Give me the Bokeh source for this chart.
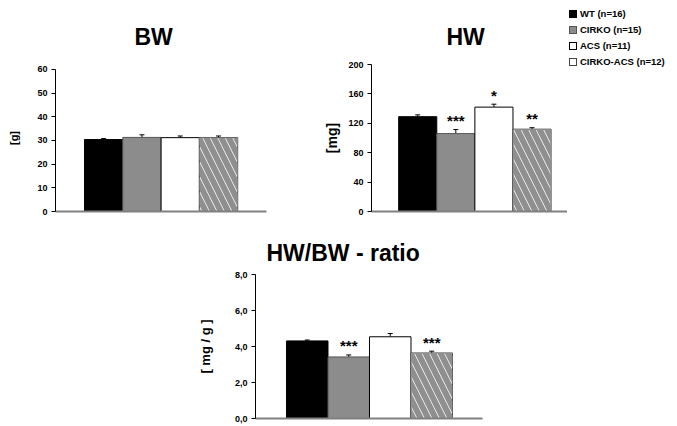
from bokeh.plotting import figure
from bokeh.models import (ColumnDataSource, Range1d, FixedTicker, Whisker, TeeHead,
                          CDSView, IndexFilter, Div)
from bokeh.layouts import column, row
from bokeh.embed import file_html
from bokeh.resources import INLINE
from bokeh.core.properties import value

FONT = "Liberation Sans"

# ---------------- data ----------------
groups = ["WT", "CIRKO", "ACS", "CIRKO-ACS"]
legend_labels = ["WT (n=16)", "CIRKO (n=15)", "ACS (n=11)", "CIRKO-ACS (n=12)"]

bw_mean = [30.4, 31.3, 31.2, 31.2]
bw_err = [0.4, 1.1, 0.7, 0.7]
bw_sig = ["", "", "", ""]

hw_mean = [129, 106, 142, 112]
hw_err = [2.5, 5.5, 4.0, 2.0]
hw_sig = ["", "***", "*", "**"]

ratio_mean = [4.31, 3.42, 4.54, 3.64]
ratio_err = [0.05, 0.11, 0.18, 0.10]
ratio_sig = ["", "***", "", "***"]

bw_ticks = [0, 10, 20, 30, 40, 50, 60]
hw_ticks = [0, 40, 80, 120, 160, 200]
ratio_ticks = [0, 2, 4, 6, 8]
ratio_tick_labels = ["0,0", "2,0", "4,0", "6,0", "8,0"]

# ---------------- styles ----------------
fills = ["black", "#8c8c8c", "white", "white"]
outlines = ["black", "#555555", "black", "#444444"]
HATCHED = groups.index("CIRKO-ACS")


def make_panel(title, ylab, means, errs, sig, ticks, y_end, y_view_end, width, height,
               bl, br, bt, bb, xr, title_offset, title_standoff,
               ylab_size, ylab_standoff, tick_overrides=None, star_size="15px"):
    p = figure(width=width, height=height, x_range=Range1d(*xr),
               y_range=Range1d(0, y_view_end),
               output_backend="svg", toolbar_location=None,
               min_border_left=bl, min_border_right=br, min_border_top=bt, min_border_bottom=bb)
    p.outline_line_color = None
    p.xgrid.visible = False
    p.ygrid.visible = False
    p.background_fill_color = "white"
    p.border_fill_color = "white"

    xs = list(range(len(means)))
    src = ColumnDataSource(dict(x=xs, top=means, hi=[m + e for m, e in zip(means, errs)],
                                fill=fills, line=outlines, sig=sig))
    r = p.vbar(x="x", top="top", bottom=0, width=1.0, fill_color="fill", line_color="line",
               line_width=1, source=src)
    p.vbar(x="x", top="top", bottom=0, width=1.0, fill_alpha=0, line_color=None,
           hatch_pattern="\\", hatch_color="#8f8f8f", hatch_weight=6, hatch_scale=15,
           source=src, view=CDSView(filter=IndexFilter([HATCHED])))

    p.add_layout(Whisker(source=src, base="x", lower="top", upper="hi", dimension="height",
                         line_color="black", line_width=1, lower_head=None,
                         upper_head=TeeHead(size=5, line_color="black", line_width=1)))

    p.text(x="x", y="hi", text="sig", source=src, text_align="center",
           text_baseline="alphabetic", y_offset=-9, text_font=value(FONT),
           text_font_style="bold", text_font_size=star_size, text_color="black")

    # x axis: plain grey base line
    p.xaxis.ticker = FixedTicker(ticks=[])
    p.xaxis.axis_line_color = "#808080"
    p.xaxis.axis_line_width = 2
    p.xaxis.major_tick_line_color = None
    p.xaxis.minor_tick_line_color = None
    p.xaxis.major_tick_out = 0
    p.xaxis.major_tick_in = 0
    p.xaxis.major_label_standoff = 0
    p.xaxis.major_label_text_font_size = "0px"

    # y axis
    yax = p.yaxis[0]
    yax.bounds = (0, y_end)
    yax.ticker = FixedTicker(ticks=ticks)
    yax.axis_line_color = "black"
    yax.major_tick_line_color = "black"
    yax.minor_tick_line_color = None
    yax.major_tick_in = 0
    yax.major_tick_out = 4
    yax.major_label_standoff = 4
    yax.major_label_text_font = FONT
    yax.major_label_text_font_style = "bold"
    yax.major_label_text_font_size = "9px"
    yax.major_label_text_color = "black"
    if tick_overrides:
        yax.major_label_overrides = tick_overrides
    yax.axis_label = ylab
    yax.axis_label_text_font = FONT
    yax.axis_label_text_font_style = "bold"
    yax.axis_label_text_font_size = ylab_size
    yax.axis_label_text_color = "black"
    yax.axis_label_standoff = ylab_standoff

    p.title.text = title
    p.title.align = "left"
    p.title.vertical_align = "top"
    p.title.offset = title_offset
    p.title.standoff = title_standoff
    p.title.text_font = FONT
    p.title.text_font_style = "bold"
    p.title.text_font_size = "23px"
    p.title.text_color = "black"
    return p, r


# thin salmon rule along the top edge
banner = Div(text='<div style="height:2px;background:#f28e7a;"></div>',
             width=650, height=2, margin=(1, 9, 1, 18))

# BW frame is drawn a little taller than its 0-60 axis so that both top-row frames align
p_bw, _ = make_panel("BW", "[g]", bw_mean, bw_err, bw_sig, bw_ticks, 60, 62.1,
                     width=300, height=212, bl=55, br=34, bt=60, bb=5,
                     xr=(-1.257, 4.252), title_offset=79, title_standoff=25,
                     ylab_size="11px", ylab_standoff=14)

p_hw, _ = make_panel("HW", "[mg]", hw_mean, hw_err, hw_sig, hw_ticks, 200, 200,
                     width=267, height=212, bl=71, br=0, bt=60, bb=5,
                     xr=(-1.213, 3.931), title_offset=75, title_standoff=25,
                     ylab_size="14px", ylab_standoff=5)

# legend key, built from the group labels and bar styles
key_rows = []
for lab, f, l in zip(legend_labels, fills, outlines):
    key_rows.append(
        '<div style="height:16px;line-height:16px;white-space:nowrap;">'
        f'<span style="display:inline-block;width:8px;height:8px;box-sizing:border-box;'
        f'background:{f};border:1px solid {l};margin-right:3px;vertical-align:middle;"></span>'
        f'<span style="vertical-align:middle;">{lab}</span></div>'
    )
leg_div = Div(text=(f'<div style="font-family:\'{FONT}\',Arial,sans-serif;font-weight:bold;'
                    f'font-size:9.5px;color:black;padding:2px 0 0 2px;">'
                    + "".join(key_rows) + "</div>"),
              width=110, height=212, margin=(0, 0, 0, 0))

p_ratio, _ = make_panel("HW/BW - ratio", "[ mg / g ]", ratio_mean, ratio_err, ratio_sig,
                        ratio_ticks, 8, 8, width=677, height=210, bl=255, br=195, bt=58, bb=8,
                        xr=(-1.247, 4.223), title_offset=11, title_standoff=14,
                        ylab_size="13px", ylab_standoff=19,
                        tick_overrides={t: l for t, l in zip(ratio_ticks, ratio_tick_labels)})

layout = column(banner, row(p_bw, p_hw, leg_div), p_ratio)

open("out.html", "w").write(file_html(layout, INLINE))
